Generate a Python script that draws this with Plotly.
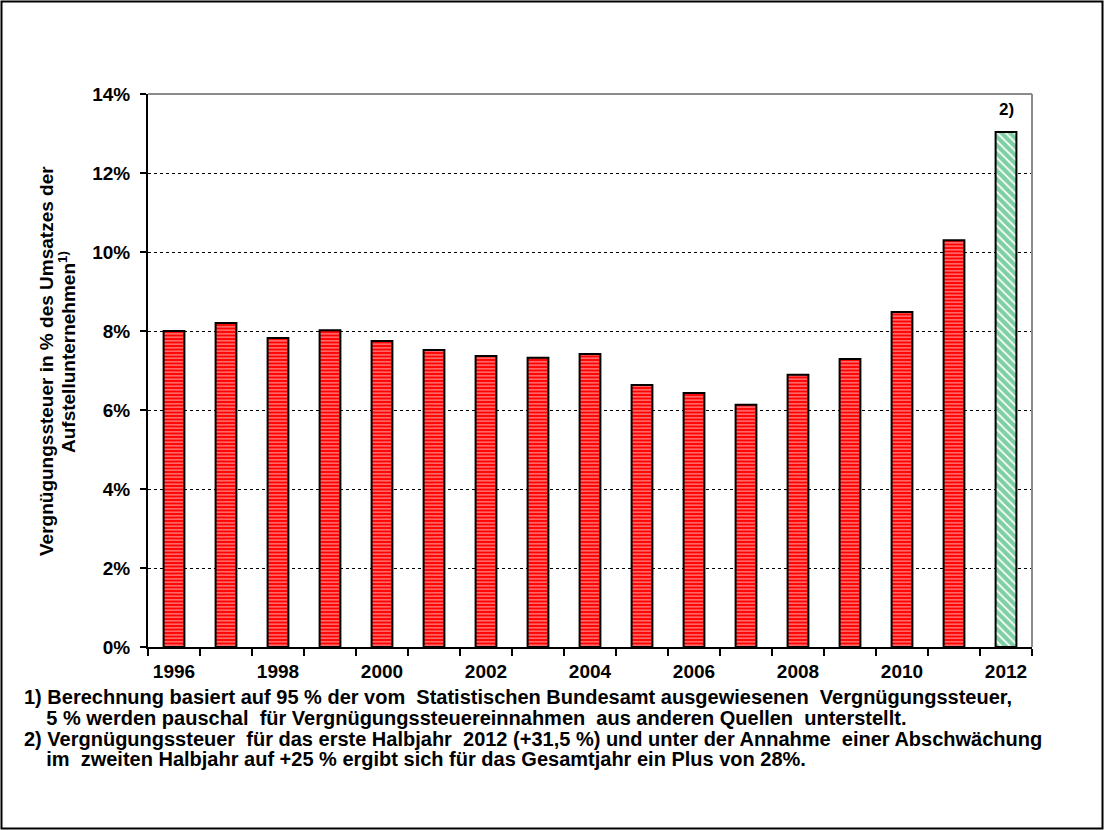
import plotly.graph_objects as go

years = list(range(1996, 2013))
values = [8.0, 8.2, 7.82, 8.02, 7.75, 7.52, 7.37, 7.32, 7.42, 6.63, 6.43, 6.13, 6.89, 7.29, 8.48, 10.3, 13.04]
x_tick_labels = ["1996", "1998", "2000", "2002", "2004", "2006", "2008", "2010", "2012"]
y_tick_vals = [0, 2, 4, 6, 8, 10, 12, 14]
y_tick_text = ["0%", "2%", "4%", "6%", "8%", "10%", "12%", "14%"]
y_title_lines = ["Vergnügungssteuer in % des Umsatzes der", "Aufstellunternehmen<sup>1)</sup>"]
footnotes = [
    "1) Berechnung basiert auf 95 % der vom  Statistischen Bundesamt ausgewiesenen  Vergnügungssteuer,",
    "    5 % werden pauschal  für Vergnügungssteuereinnahmen  aus anderen Quellen  unterstellt.",
    "2) Vergnügungssteuer  für das erste Halbjahr  2012 (+31,5 %) und unter der Annahme  einer Abschwächung",
    "    im  zweiten Halbjahr auf +25 % ergibt sich für das Gesamtjahr ein Plus von 28%.",
]

W, H = 1104, 830
L, R, T, B = 148, 72, 94, 183
pw, ph = W - L - R, H - T - B

FONT = "Liberation Sans, Arial, sans-serif"

fig = go.Figure()
fig.add_trace(go.Bar(
    x=years[:-1], y=values[:-1], width=0.4,
    marker=dict(color="#ff0000", line=dict(color="black", width=2),
                pattern=dict(shape="-", fgcolor="white", bgcolor="#ff0000", size=3.5, solidity=0.4)),
    showlegend=False,
))
fig.add_trace(go.Bar(
    x=years[-1:], y=values[-1:], width=0.4,
    marker=dict(color="white", line=dict(color="black", width=2),
                pattern=dict(shape="\\", fgcolor="#00a04a", bgcolor="white", size=6, solidity=0.7)),
    showlegend=False,
))

fig.add_annotation(x=years[-1], y=values[-1], yshift=22, text="<b>2)</b>", showarrow=False,
                   font=dict(size=17, color="black", family=FONT))

def px_x(p):
    return (p - L) / pw
def px_y(p):
    return 1 - (p - T) / ph

shapes = [
    dict(type="rect", xref="paper", yref="paper", x0=px_x(1.5), x1=px_x(W - 1.5), y0=px_y(H - 1.5), y1=px_y(1.5),
         line=dict(color="black", width=2), fillcolor="rgba(0,0,0,0)", layer="below"),
    dict(type="line", xref="paper", yref="paper", x0=0, x1=1, y0=1, y1=1, line=dict(color="#8c8c8c", width=2)),
    dict(type="line", xref="paper", yref="paper", x0=1, x1=1, y0=0, y1=1, line=dict(color="#8c8c8c", width=2)),
]

# y-axis title, two rotated lines
for txt, xc, yc in zip(y_title_lines, [47, 67], [361, 352]):
    fig.add_annotation(xref="paper", yref="paper", x=px_x(xc), y=px_y(yc), xanchor="center", yanchor="middle",
                       textangle=-90, showarrow=False, text="<b>" + txt + "</b>",
                       font=dict(size=19, color="black", family=FONT))

# footnotes
for txt, yc in zip(footnotes, [697, 718, 739, 759]):
    fig.add_annotation(xref="paper", yref="paper", x=px_x(22), y=px_y(yc), xanchor="left", yanchor="middle",
                       align="left", showarrow=False, text="<b>" + txt.replace("  ", "&nbsp;&nbsp;") + "</b>",
                       font=dict(size=20, color="black", family=FONT))

fig.update_layout(
    width=W, height=H,
    margin=dict(l=L, r=R, t=T, b=B),
    paper_bgcolor="white", plot_bgcolor="white",
    font=dict(family=FONT, color="black"),
    shapes=shapes,
    xaxis=dict(
        range=[1995.5, 2012.5],
        tickmode="array", tickvals=[int(t) for t in x_tick_labels], ticktext=[f"<b>{t}</b>" for t in x_tick_labels],
        ticks="", showgrid=False, zeroline=False, ticklabelstandoff=6,
        showline=True, linecolor="black", linewidth=2,
        tickfont=dict(size=19, family=FONT),
        minor=dict(tickmode="linear", tick0=1995.5, dtick=1, ticks="outside", ticklen=7, tickcolor="black", tickwidth=1.5, showgrid=False),
    ),
    yaxis=dict(
        range=[0, 14],
        tickmode="array", tickvals=y_tick_vals, ticktext=[f"<b>{t}</b>" for t in y_tick_text],
        ticks="outside", ticklen=6, tickcolor="black", tickwidth=1.5, ticklabelstandoff=6,
        showgrid=True, gridcolor="black", griddash="dot", gridwidth=1,
        zeroline=False, showline=True, linecolor="black", linewidth=2,
        tickfont=dict(size=19, family=FONT),
    ),
)

fig.write_html("out.html", post_script="document.body.style.margin='0px';",
               config={"displayModeBar": False})
